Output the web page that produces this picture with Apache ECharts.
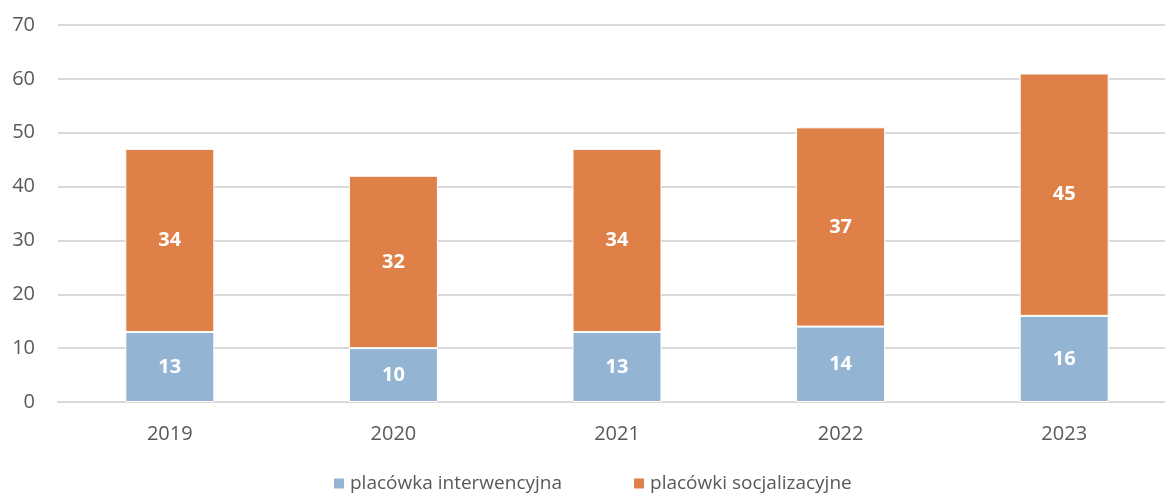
<!DOCTYPE html>
<html>
<head>
<meta charset="utf-8">
<script src="https://cdn.jsdelivr.net/npm/echarts@6/dist/echarts.min.js"></script>
<style>
  html, body { margin: 0; padding: 0; background: #fff; overflow: hidden; }
  /* wykres w oryginale jest przycięty z prawej strony */
  #main { width: 1176px; height: 495px; }
</style>
</head>
<body>
<div id="main"></div>
<script>
// lata
var years = ['2019', '2020', '2021', '2022', '2023'];
// liczba placówek
var interwencyjne = [13, 10, 13, 14, 16];
var socjalizacyjne = [34, 32, 34, 37, 45];
var yTicks = [0, 10, 20, 30, 40, 50, 60, 70];

var myChart = echarts.init(document.getElementById('main'));

var labelStyle = {
    show: true,
    position: 'inside',
    color: '#fff',
    fontWeight: 'bold',
    fontSize: 20,
    fontFamily: 'Open Sans'
};

var option = {
    animation: false,
    textStyle: { fontFamily: 'Open Sans' },
    grid: { left: 58, right: 0, top: 25, bottom: 93, containLabel: false },
    legend: {
        left: 332,
        top: 474,
        padding: 0,
        itemWidth: 12,
        itemHeight: 12,
        itemGap: 70,
        icon: 'rect',
        textStyle: { color: '#595959', fontSize: 19, fontFamily: 'Open Sans' },
        data: ['placówka interwencyjna', 'placówki socjalizacyjne']
    },
    xAxis: {
        type: 'category',
        data: years,
        axisLine: { lineStyle: { color: '#d9d9d9', width: 2 } },
        axisTick: { show: false },
        axisLabel: { color: '#595959', fontSize: 20, margin: 22 }
    },
    yAxis: {
        type: 'value',
        min: yTicks[0],
        max: yTicks[yTicks.length - 1],
        interval: 10,
        axisLine: { show: false },
        axisTick: { show: false },
        axisLabel: { color: '#595959', fontSize: 20, margin: 23 },
        splitLine: { lineStyle: { color: '#d9d9d9', width: 2 } }
    },
    series: [
        {
            name: 'placówka interwencyjna',
            type: 'bar',
            stack: 'razem',
            barWidth: 89,
            data: interwencyjne,
            itemStyle: { color: '#94b4d4', borderColor: '#fff', borderWidth: 1 },
            label: labelStyle
        },
        {
            name: 'placówki socjalizacyjne',
            type: 'bar',
            stack: 'razem',
            barWidth: 89,
            data: socjalizacyjne,
            itemStyle: { color: '#de8047', borderColor: '#fff', borderWidth: 1 },
            label: labelStyle
        }
    ]
};

myChart.setOption(option);
</script>
</body>
</html>
